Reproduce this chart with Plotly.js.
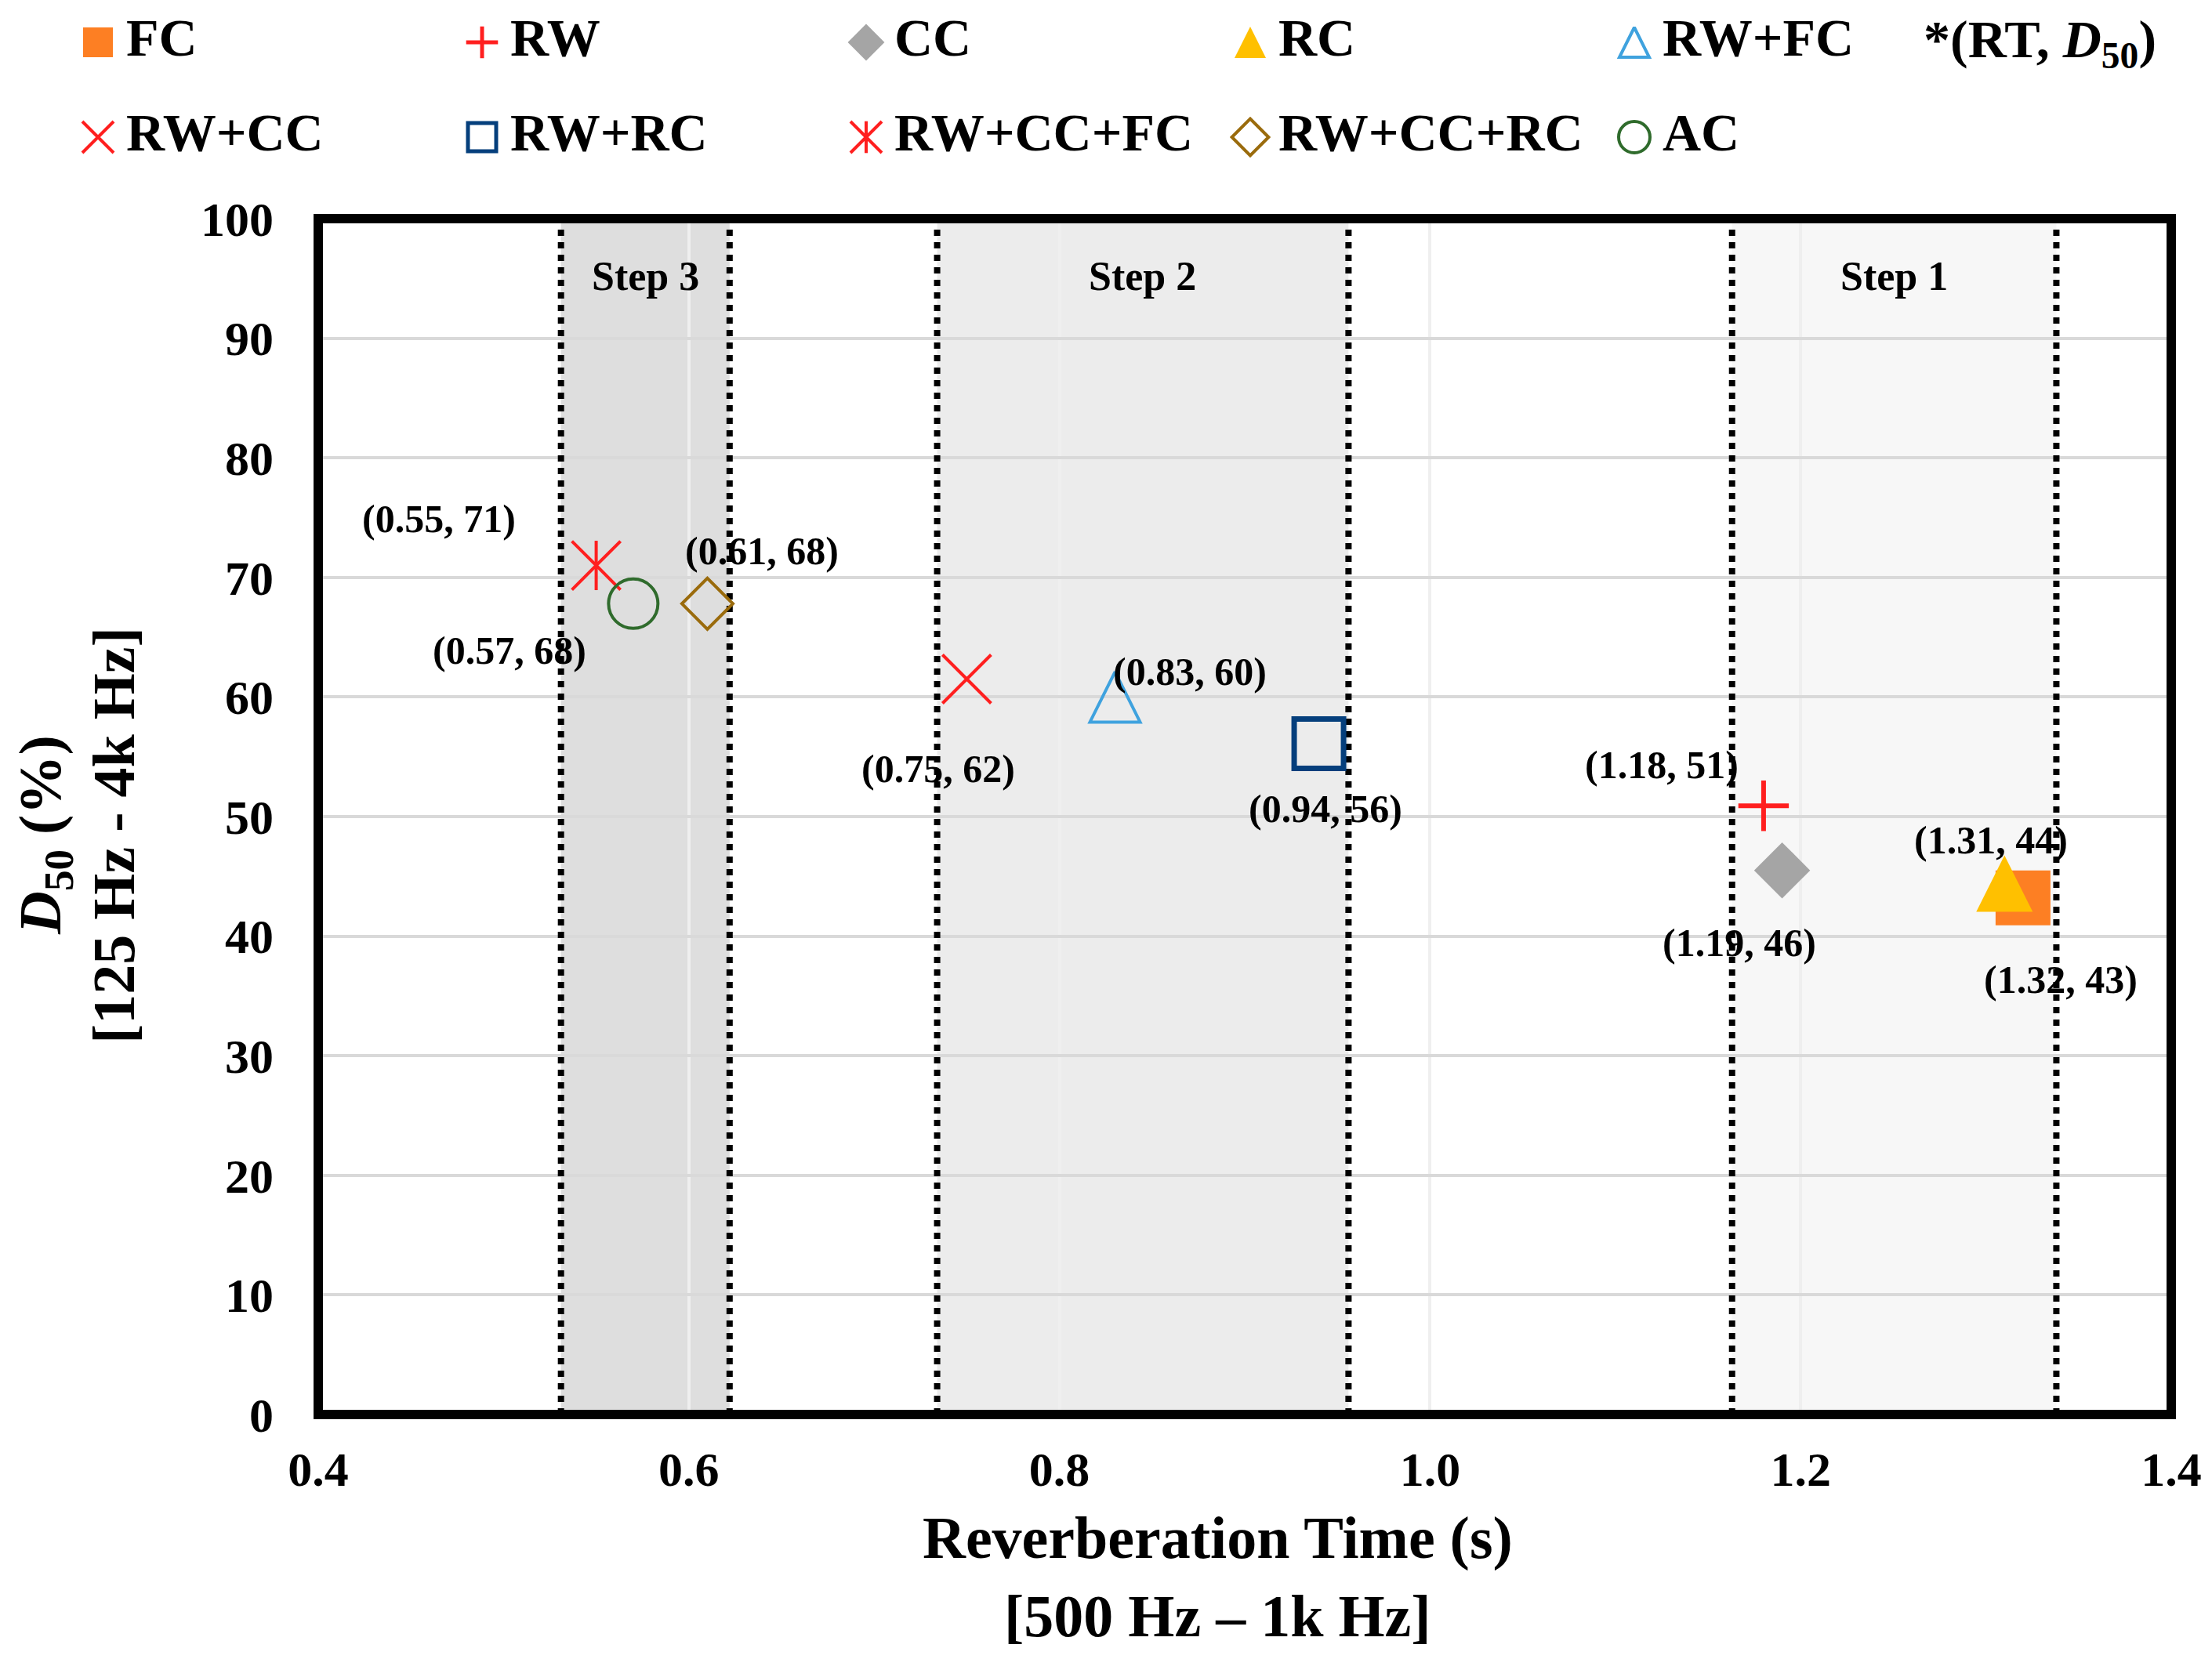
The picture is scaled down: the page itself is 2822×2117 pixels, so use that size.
<!DOCTYPE html>
<html>
<head>
<meta charset="utf-8">
<script src="https://cdn.plot.ly/plotly-3.0.1.min.js"></script>
<style>
  html, body { margin: 0; padding: 0; background: #ffffff; }
  #graph { width: 2822px; height: 2117px; }
</style>
</head>
<body>
<div id="graph"></div>
<script>
// treatments, in legend order (row-wise)
const treatments = ["FC", "RW", "CC", "RC", "RW+FC", "RW+CC", "RW+RC", "RW+CC+FC", "RW+CC+RC", "AC"];
// reverberation time (s), 500 Hz - 1k Hz
const rt = [1.32, 1.18, 1.19, 1.31, 0.83, 0.75, 0.94, 0.55, 0.61, 0.57];
// D50 (%), 125 Hz - 4k Hz
const d50 = [43.2, 50.9, 45.5, 44.4, 60.0, 61.5, 56.1, 71.0, 67.8, 67.8];

// shaded treatment steps
const stepNames = ["Step 3", "Step 2", "Step 1"];
const stepStart = [0.531, 0.734, 1.163];
const stepEnd = [0.622, 0.956, 1.338];

const xTicks = [0.4, 0.6, 0.8, 1.0, 1.2, 1.4];
const yTicks = [0, 10, 20, 30, 40, 50, 60, 70, 80, 90, 100];

const W = 2822, H = 2117;
const FONT = "Liberation Serif, Times New Roman, serif";

// plot area (frame line centres, px) and frame line width
const plotL = 406, plotR = 2770, plotT = 279, plotB = 1805, frameW = 12;

const markerStyle = [
  { symbol: "square", color: "#FD7F23", size: 70, width: 0, legSize: 38 },
  { symbol: "cross-thin-open", color: "#FF1F1F", size: 46, width: 6, legSize: 29, legWidth: 5 },
  { symbol: "diamond", color: "#A5A5A5", size: 55, width: 0, legSize: 36 },
  { symbol: "arrow-down", angle: 180, color: "#FFC000", size: 72, width: 0, legSize: 40 },
  { symbol: "arrow-down-open", angle: 180, color: "#3FA2DE", size: 64, width: 4, legSize: 38 },
  { symbol: "x-thin-open", color: "#FF1F1F", size: 62, width: 4, legSize: 40 },
  { symbol: "square-open", color: "#053F7C", size: 63, width: 7, legSize: 36, legWidth: 5 },
  { symbol: "x-thin-open", color: "#FF1F1F", size: 62, width: 4, legSize: 40,
    extra: "line-ns-open", extraSize: 45, legExtraSize: 29 },
  { symbol: "diamond-open", color: "#9A6B0C", size: 50, width: 4, legSize: 36 },
  { symbol: "circle-open", color: "#2F6B2C", size: 63, width: 4, legSize: 40 },
];

// pixel shift of each "(RT, D50)" label from its point
const labelShift = [
  [48, -104], [-130, 52], [-55, -92], [-17, 55], [95, 32],
  [-36, -114], [8, -83], [-201, 60], [70, 67], [-158, -60],
];

const stepFill = ["#dedede", "#ececec", "#f7f7f7"];

function markerOf(s, size, forLegend) {
  const lw = forLegend ? (s.legWidth || s.width) : s.width;
  const m = { symbol: s.symbol, size: size, color: s.color, line: { width: lw, color: s.color } };
  if (s.angle) {
    // arrow symbols have the tip on the point: rotate and pull back to centre
    m.angle = s.angle;
    m.standoff = size / 2;
  }
  return m;
}

const traces = [];

// main scatter points
treatments.forEach((name, i) => {
  const s = markerStyle[i];
  traces.push({
    type: "scatter", mode: "markers", name: name,
    x: [rt[i]], y: [d50[i]],
    cliponaxis: false, hoverinfo: "skip",
    marker: markerOf(s, s.size, false),
  });
  if (s.extra) {
    traces.push({
      type: "scatter", mode: "markers", name: name,
      x: [rt[i]], y: [d50[i]],
      cliponaxis: false, hoverinfo: "skip",
      marker: { symbol: s.extra, size: s.extraSize, color: s.color,
                line: { width: s.width, color: s.color } },
    });
  }
});

// legend drawn on a pixel-unit axis pair at the top
const legCols = 5, legX0 = 125, legDX = 490, legY0 = 54, legDY = 121, legTextGap = 36;
const legX = treatments.map((_, i) => legX0 + legDX * (i % legCols));
const legY = treatments.map((_, i) => legY0 + legDY * Math.floor(i / legCols));

treatments.forEach((name, i) => {
  const s = markerStyle[i];
  traces.push({
    type: "scatter", mode: "markers", xaxis: "x2", yaxis: "y2",
    x: [legX[i]], y: [legY[i]], cliponaxis: false, hoverinfo: "skip",
    marker: markerOf(s, s.legSize, true),
  });
  if (s.extra) {
    traces.push({
      type: "scatter", mode: "markers", xaxis: "x2", yaxis: "y2",
      x: [legX[i]], y: [legY[i]], cliponaxis: false, hoverinfo: "skip",
      marker: { symbol: s.extra, size: s.legExtraSize, color: s.color,
                line: { width: s.legWidth || s.width, color: s.color } },
    });
  }
});
traces.push({
  type: "scatter", mode: "text", xaxis: "x2", yaxis: "y2",
  x: legX.map((v) => v + legTextGap), y: legY,
  text: treatments, textposition: "middle right",
  textfont: { family: FONT, size: 68, color: "#000", weight: "bold" },
  cliponaxis: false, hoverinfo: "skip",
});

const shapes = [];
stepNames.forEach((_, i) => {
  shapes.push({
    type: "rect", xref: "x", yref: "y", layer: "below",
    x0: stepStart[i], x1: stepEnd[i], y0: 0, y1: 100,
    fillcolor: stepFill[i], line: { width: 0 },
  });
  [stepStart[i], stepEnd[i]].forEach((xv) => {
    shapes.push({
      type: "line", xref: "x", yref: "y", layer: "between",
      x0: xv, x1: xv, y0: 0, y1: 100,
      line: { color: "#000", width: 8, dash: "8px,8px" },
    });
  });
});
// heavy black frame centred on the plot edges
shapes.push({
  type: "rect", xref: "x domain", yref: "y domain", layer: "above",
  x0: 0, x1: 1, y0: 0, y1: 1,
  line: { color: "#000", width: frameW }, fillcolor: "rgba(0,0,0,0)",
});

const annotations = [];
const labelFont = { family: FONT, size: 50, color: "#000", weight: "bold" };
treatments.forEach((_, i) => {
  annotations.push({
    xref: "x", yref: "y", x: rt[i], y: d50[i], showarrow: false,
    xanchor: "center", yanchor: "middle",
    xshift: labelShift[i][0], yshift: labelShift[i][1],
    text: "(" + rt[i].toFixed(2) + ", " + Math.round(d50[i]) + ")",
    font: labelFont,
  });
});
stepNames.forEach((name, i) => {
  annotations.push({
    xref: "x", yref: "y", x: (stepStart[i] + stepEnd[i]) / 2, y: 95.2,
    xanchor: "center", yanchor: "middle",
    showarrow: false, text: name,
    font: { family: FONT, size: 52, color: "#000", weight: "bold" },
  });
});
const titleFont = { family: FONT, size: 76, color: "#000", weight: "bold" };
annotations.push(
  { xref: "paper", yref: "paper", x: 1553 / W, y: 1 - 1962 / H, xanchor: "center", yanchor: "middle",
    showarrow: false, text: "Reverberation Time (s)", font: titleFont },
  { xref: "paper", yref: "paper", x: 1553 / W, y: 1 - 2062 / H, xanchor: "center", yanchor: "middle",
    showarrow: false, text: "[500 Hz – 1k Hz]", font: titleFont },
  { xref: "paper", yref: "paper", x: 57 / W, y: 1 - 1066 / H, xanchor: "center", yanchor: "middle",
    showarrow: false, textangle: -90, text: "<i>D</i><sub>50</sub> (%)", font: titleFont },
  { xref: "paper", yref: "paper", x: 145 / W, y: 1 - 1066 / H, xanchor: "center", yanchor: "middle",
    showarrow: false, textangle: -90, text: "[125 Hz - 4k Hz]", font: titleFont },
  { xref: "x2", yref: "y2", x: 2452, y: legY0, xanchor: "left", yanchor: "middle", showarrow: false,
    text: "*(RT, <i>D</i><sub>50</sub>)",
    font: { family: FONT, size: 68, color: "#000", weight: "bold" } }
);

const tickFont = { family: FONT, size: 62, color: "#000", weight: "bold" };
const layout = {
  width: W, height: H,
  margin: { l: 0, r: 0, t: 0, b: 0, pad: 0 },
  paper_bgcolor: "#ffffff",
  plot_bgcolor: "#ffffff",
  showlegend: false,
  font: { family: FONT, color: "#000" },
  xaxis: {
    domain: [plotL / W, plotR / W], anchor: "y",
    range: [0.4, 1.4], tickvals: xTicks, tickformat: ".1f",
    showgrid: true, gridcolor: "#efefef", gridwidth: 4,
    zeroline: false, ticks: "", ticklabelstandoff: 28, showline: false,
    tickfont: tickFont,
  },
  yaxis: {
    domain: [1 - plotB / H, 1 - plotT / H], anchor: "x",
    range: [0, 100], tickvals: yTicks,
    showgrid: true, gridcolor: "#d9d9d9", gridwidth: 4,
    zeroline: false, ticks: "", ticklabelstandoff: 56, showline: false,
    tickfont: tickFont,
  },
  xaxis2: { domain: [0, 1], range: [0, W], visible: false, anchor: "y2", fixedrange: true },
  yaxis2: { domain: [1 - 233 / H, 1], range: [233, 0], visible: false, anchor: "x2", fixedrange: true },
  shapes: shapes,
  annotations: annotations,
};

Plotly.newPlot("graph", traces, layout, { staticPlot: true, displayModeBar: false });
</script>
</body>
</html>
